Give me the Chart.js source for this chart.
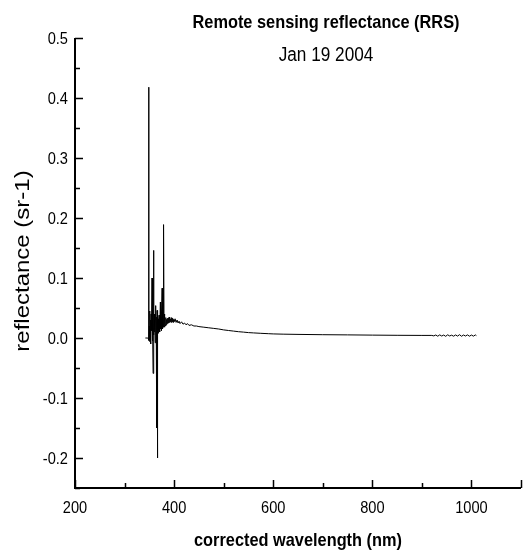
<!DOCTYPE html>
<html>
<head>
<meta charset="utf-8">
<script src="https://cdn.jsdelivr.net/npm/chart.js@4.4.1/dist/chart.umd.min.js"></script>
<style>
  html, body { margin: 0; padding: 0; background: #fff; }
  canvas { display: block; }
</style>
</head>
<body>
<canvas id="chart" width="524" height="554"></canvas>
<script>
// spectrum (nm, sr-1)
const wavelengths = [
  342, 346, 347.5, 348.5, 349, 349.3, 350, 350.6, 351.2, 351.8, 352.4, 353, 353.6, 354.2, 354.8,
  355.4, 356, 356.6, 357.2, 357.6, 358.2, 358.8, 359.4, 360, 360.6, 361.2, 361.8, 362.2, 362.8,
  363.4, 364, 364.6, 365.2, 365.7, 366.1, 366.6, 367.2, 367.8, 368.4, 369, 369.6, 370.2, 370.8,
  371.4, 372.3, 373, 373.6, 374.2, 374.8, 375.8, 376.4, 377, 377.6, 378.4, 379, 379.6, 380.2,
  380.8, 381.4, 382.4, 383.2, 384, 385, 386, 387, 388, 389, 390, 391, 392, 393, 394, 395, 396,
  397, 398, 399, 400, 402, 404, 406, 408, 410, 412, 415, 418, 421, 424, 427, 430, 435, 440, 445,
  450, 460, 470, 480, 490, 500, 510, 520, 530, 540, 550, 560, 575, 590, 600, 620, 650, 700, 750,
  800, 850, 900, 920, 924, 928, 932, 936, 940, 944, 948, 952, 956, 960, 964, 968, 972, 976, 980,
  984, 988, 992, 996, 1000, 1004, 1008, 1010
];
const reflectance = [
  0.000, 0.000, 0.000, -0.004, 0.418, -0.004, 0.02, -0.006, 0.045, 0.005, 0.03, -0.01, 0.04, 0.012, 0.035,
  0.10, -0.005, 0.03, 0.01, -0.059, 0.02, 0.146, 0.005, 0.04, 0.01, 0.03, -0.008, 0.054, 0.012,
  0.03, 0.004, 0.035, -0.15, 0.046, -0.2, 0.02, 0.04, 0.008, 0.032, 0.012, 0.038, 0.015, 0.03,
  0.01, 0.06, 0.015, 0.035, 0.012, 0.04, 0.083, 0.015, 0.035, 0.018, 0.045, 0.189, 0.02, 0.04,
  0.018, 0.032, 0.02, 0.034, 0.022, 0.031, 0.024, 0.033, 0.025, 0.034, 0.026, 0.035, 0.027, 0.032, 0.026, 0.034, 0.027,
  0.033, 0.026, 0.031, 0.027, 0.032, 0.026, 0.03, 0.025, 0.028, 0.024, 0.027, 0.023, 0.025, 0.022, 0.024, 0.021, 0.022, 0.02, 0.02,
  0.019, 0.018, 0.017, 0.016, 0.015, 0.0135, 0.0125, 0.0115, 0.0105, 0.0098, 0.009, 0.0085, 0.0078, 0.0072, 0.0068, 0.0064, 0.006, 0.0055, 0.0052,
  0.0048, 0.0045, 0.0043, 0.0043, 0.0035, 0.005, 0.003, 0.0052, 0.0033, 0.0049, 0.0028, 0.0053, 0.0034, 0.0047, 0.003, 0.0051, 0.0032, 0.0055, 0.0029,
  0.005, 0.0033, 0.0052, 0.003, 0.0049, 0.0031, 0.0051, 0.004
];

const xTicks = [200, 400, 600, 800, 1000];
const xTickLabels = ["200", "400", "600", "800", "1000"];
const yTicks = [-0.2, -0.1, 0.0, 0.1, 0.2, 0.3, 0.4, 0.5];
const yTickLabels = ["-0.2", "-0.1", "0.0", "0.1", "0.2", "0.3", "0.4", "0.5"];

const FONT = "'Liberation Sans', Arial, sans-serif";
const SQ = 0.86; // the original text looks horizontally squeezed

function drawText(ctx, s, x, y, font, align) {
  ctx.save();
  ctx.font = font;
  ctx.textAlign = align;
  ctx.textBaseline = "alphabetic";
  ctx.translate(x, y);
  ctx.scale(SQ, 1);
  ctx.fillText(s, 0, 0);
  ctx.restore();
}

const axesPlugin = {
  id: "originAxes",
  afterDraw(chart) {
    const ctx = chart.ctx;
    const xs = chart.scales.x, ys = chart.scales.y;
    const left = xs.left, right = xs.right, top = ys.top, bottom = ys.bottom;
    ctx.save();
    ctx.strokeStyle = "#000";
    ctx.fillStyle = "#000";
    ctx.lineWidth = 2;
    ctx.beginPath();
    ctx.moveTo(left, top);
    ctx.lineTo(left, bottom);
    ctx.lineTo(right, bottom);
    ctx.stroke();

    // inward ticks
    ctx.lineWidth = 1.5;
    ctx.beginPath();
    for (let v = 200; v <= 1100; v += 100) {
      const px = Math.round(xs.getPixelForValue(v)) + 0.5;
      const len = v % 200 === 0 || v === 1100 ? 8 : 5;
      ctx.moveTo(px, bottom);
      ctx.lineTo(px, bottom - len);
    }
    for (let i = -5; i <= 10; i++) {
      const v = i * 0.05;
      const py = Math.round(ys.getPixelForValue(v)) + 0.5;
      const len = i % 2 === 0 ? 8 : 5;
      ctx.moveTo(left, py);
      ctx.lineTo(left + len, py);
    }
    ctx.stroke();

    const tickFont = "17px " + FONT;
    xTicks.forEach((v, i) => {
      drawText(ctx, xTickLabels[i], xs.getPixelForValue(v), bottom + 25, tickFont, "center");
    });
    yTicks.forEach((v, i) => {
      drawText(ctx, yTickLabels[i], left - 7, ys.getPixelForValue(v) + 6, tickFont, "right");
    });

    // titles
    drawText(ctx, "Remote sensing reflectance (RRS)", 326, 28, "bold 19px " + FONT, "center");
    drawText(ctx, "Jan 19 2004", 326, 61, "20px " + FONT, "center");
    drawText(ctx, "corrected wavelength (nm)", (left + right) / 2, 546, "bold 19px " + FONT, "center");

    ctx.save();
    ctx.font = "24px " + FONT;
    ctx.textAlign = "center";
    ctx.textBaseline = "middle";
    ctx.translate(23, (top + bottom) / 2 - 2);
    ctx.scale(SQ, 1);
    ctx.rotate(-Math.PI / 2);
    ctx.fillText("reflectance (sr-1)", 0, 0);
    ctx.restore();

    ctx.restore();
  }
};

new Chart(document.getElementById("chart"), {
  type: "scatter",
  data: {
    datasets: [{
      data: wavelengths.map((x, i) => ({ x: x, y: reflectance[i] })),
      showLine: true,
      borderColor: "#000",
      borderWidth: 1,
      borderJoinStyle: "bevel",
      pointRadius: 0,
      tension: 0
    }]
  },
  options: {
    responsive: false,
    animation: false,
    devicePixelRatio: 1,
    layout: { padding: { left: 75, right: 3, top: 38, bottom: 66 } },
    plugins: { legend: { display: false }, title: { display: false }, tooltip: { enabled: false } },
    scales: {
      x: {
        type: "linear", min: 200, max: 1100,
        ticks: { display: false }, grid: { display: false }, border: { display: false },
        afterFit: (s) => { s.height = 0; }
      },
      y: {
        type: "linear", min: -0.25, max: 0.5,
        ticks: { display: false }, grid: { display: false }, border: { display: false },
        afterFit: (s) => { s.width = 0; }
      }
    }
  },
  plugins: [axesPlugin]
});
</script>
</body>
</html>
